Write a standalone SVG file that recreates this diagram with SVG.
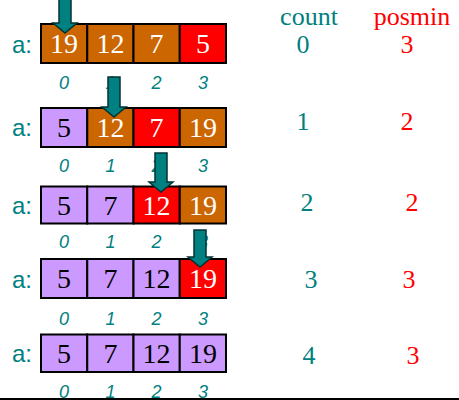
<svg xmlns="http://www.w3.org/2000/svg" width="459" height="400" viewBox="0 0 459 400">
<style>
.cell{stroke:#000;stroke-width:2}
.o{fill:#CC6600}.r{fill:#FF0000}.p{fill:#CC99FF}
.v{font-family:"Liberation Serif","Times New Roman",serif;font-size:28px;text-anchor:middle}
.w{fill:#fff}.b{fill:#000}
.lbl{font-family:"Liberation Sans",Arial,sans-serif;font-size:24px;fill:#008080}
.idx{font-family:"Liberation Sans",Arial,sans-serif;font-size:18px;font-style:italic;fill:#008080;text-anchor:middle}
.cnt{font-family:"Liberation Serif","Times New Roman",serif;font-size:26px;fill:#008080;text-anchor:middle}
.pm{font-family:"Liberation Serif","Times New Roman",serif;font-size:26px;fill:#FF0000;text-anchor:middle}
.arr{fill:#008080;stroke:#003333;stroke-width:1.5;stroke-linejoin:miter}
</style>
<defs>
<path id="idxrow" d=""/>
</defs>
<rect width="459" height="400" fill="#fff"/>

<g id="row1">
<text class="lbl" x="12" y="53">a:</text>
<rect class="cell o" x="41" y="24" width="46.25" height="39"/>
<rect class="cell o" x="87.25" y="24" width="46.25" height="39"/>
<rect class="cell o" x="133.5" y="24" width="46.25" height="39"/>
<rect class="cell r" x="179.75" y="24" width="46.25" height="39"/>
<text class="v w" x="64" y="53">19</text>
<text class="v w" x="110.4" y="53">12</text>
<text class="v w" x="156.6" y="53">7</text>
<text class="v w" x="202.9" y="53">5</text>
<text class="idx" x="64" y="89">0</text>
<text class="idx" x="110.4" y="89">1</text>
<text class="idx" x="156.6" y="89">2</text>
<text class="idx" x="202.9" y="89">3</text>
</g>

<g id="row2">
<text class="lbl" x="12" y="136">a:</text>
<rect class="cell p" x="41" y="108" width="46.25" height="39"/>
<rect class="cell o" x="87.25" y="108" width="46.25" height="39"/>
<rect class="cell r" x="133.5" y="108" width="46.25" height="39"/>
<rect class="cell o" x="179.75" y="108" width="46.25" height="39"/>
<text class="v b" x="64" y="137">5</text>
<text class="v w" x="110.4" y="137">12</text>
<text class="v w" x="156.6" y="137">7</text>
<text class="v w" x="202.9" y="137">19</text>
<text class="idx" x="64" y="172">0</text>
<text class="idx" x="110.4" y="172">1</text>
<text class="idx" x="156.6" y="172">2</text>
<text class="idx" x="202.9" y="172">3</text>
</g>

<g id="row3">
<text class="lbl" x="12" y="214">a:</text>
<rect class="cell p" x="41" y="186.5" width="46.25" height="37"/>
<rect class="cell p" x="87.25" y="186.5" width="46.25" height="37"/>
<rect class="cell r" x="133.5" y="186.5" width="46.25" height="37"/>
<rect class="cell o" x="179.75" y="186.5" width="46.25" height="37"/>
<text class="v b" x="64" y="215">5</text>
<text class="v b" x="110.4" y="215">7</text>
<text class="v w" x="156.6" y="215">12</text>
<text class="v w" x="202.9" y="215">19</text>
<text class="idx" x="64" y="248">0</text>
<text class="idx" x="110.4" y="248">1</text>
<text class="idx" x="156.6" y="248">2</text>
<text class="idx" x="202.9" y="248">3</text>
</g>

<g id="row4">
<text class="lbl" x="12" y="288">a:</text>
<rect class="cell p" x="41" y="259" width="46.25" height="39"/>
<rect class="cell p" x="87.25" y="259" width="46.25" height="39"/>
<rect class="cell p" x="133.5" y="259" width="46.25" height="39"/>
<rect class="cell r" x="179.75" y="259" width="46.25" height="39"/>
<text class="v b" x="64" y="288">5</text>
<text class="v b" x="110.4" y="288">7</text>
<text class="v b" x="156.6" y="288">12</text>
<text class="v w" x="202.9" y="288">19</text>
<text class="idx" x="64" y="325">0</text>
<text class="idx" x="110.4" y="325">1</text>
<text class="idx" x="156.6" y="325">2</text>
<text class="idx" x="202.9" y="325">3</text>
</g>

<g id="row5">
<text class="lbl" x="12" y="362">a:</text>
<rect class="cell p" x="41" y="334.5" width="46.25" height="37.5"/>
<rect class="cell p" x="87.25" y="334.5" width="46.25" height="37.5"/>
<rect class="cell p" x="133.5" y="334.5" width="46.25" height="37.5"/>
<rect class="cell p" x="179.75" y="334.5" width="46.25" height="37.5"/>
<text class="v b" x="64" y="363">5</text>
<text class="v b" x="110.4" y="363">7</text>
<text class="v b" x="156.6" y="363">12</text>
<text class="v b" x="202.9" y="363">19</text>
<text class="idx" x="64" y="398">0</text>
<text class="idx" x="110.4" y="398">1</text>
<text class="idx" x="156.6" y="398">2</text>
<text class="idx" x="202.9" y="398">3</text>
</g>

<g id="pointers">
<path class="arr" d="M59,-2 H71 V23 H77 L65,33 L53,23 H59 Z"/>
<path class="arr" d="M108,77 H120 V107 H126 L114,117 L102,107 H108 Z"/>
<path class="arr" d="M155,153 H167 V182 H173 L161,192 L149,182 H155 Z"/>
<path class="arr" d="M194,230 H206 V257 H212 L200,267 L188,257 H194 Z"/>
</g>

<g id="table">
<text class="cnt" x="309" y="25">count</text>
<text class="pm" x="412" y="25">posmin</text>
<text class="cnt" x="303" y="53">0</text>
<text class="pm" x="407" y="53">3</text>
<text class="cnt" x="303" y="130">1</text>
<text class="pm" x="407" y="130">2</text>
<text class="cnt" x="307" y="211">2</text>
<text class="pm" x="412" y="211">2</text>
<text class="cnt" x="311" y="288">3</text>
<text class="pm" x="409" y="288">3</text>
<text class="cnt" x="309" y="364">4</text>
<text class="pm" x="413" y="364">3</text>
</g>

<rect x="0" y="398" width="459" height="2" fill="#000"/>
</svg>
